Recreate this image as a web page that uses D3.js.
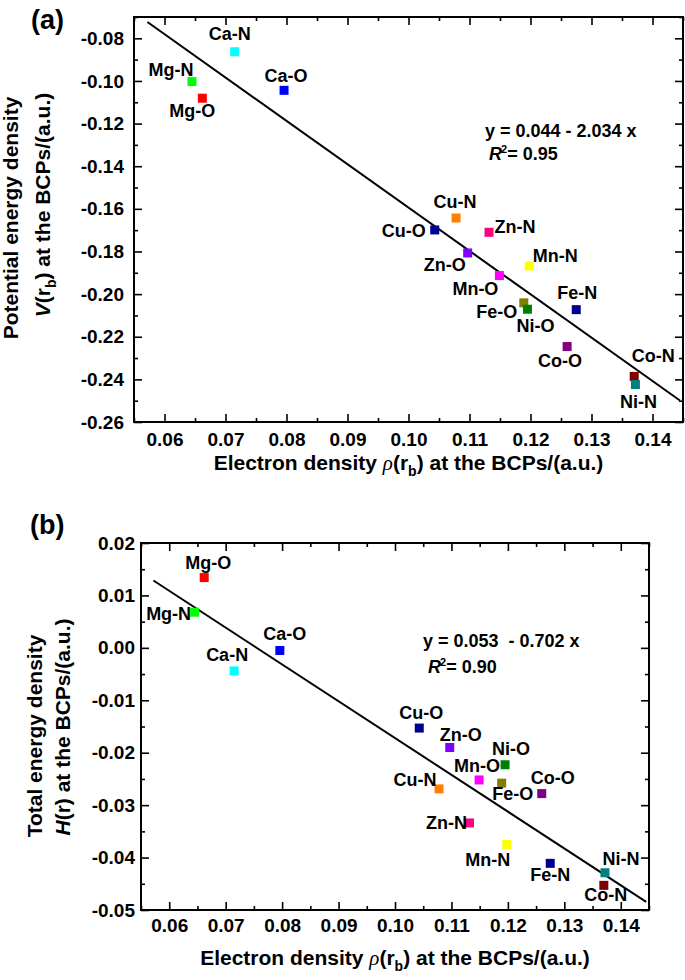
<!DOCTYPE html>
<html>
<head>
<meta charset="utf-8">
<script src="https://cdn.jsdelivr.net/npm/d3@7"></script>
<style>
body { margin: 0; background: #fff; }
svg { display: block; font-family: 'Liberation Sans', Arial, sans-serif; font-weight: bold; }
</style>
</head>
<body>
<svg id="chart-root" width="685" height="980"></svg>
<script>
const root = d3.select('#chart-root');

//Data
const bonds = ['Mg-N', 'Mg-O', 'Ca-N', 'Ca-O', 'Cu-N', 'Cu-O', 'Zn-N', 'Zn-O',
    'Mn-N', 'Mn-O', 'Fe-N', 'Fe-O', 'Co-N', 'Co-O', 'Ni-N', 'Ni-O'];
const rho = [0.0645, 0.0662, 0.0715, 0.0796, 0.1078, 0.1043, 0.1132, 0.1097,
    0.1198, 0.1149, 0.1275, 0.1189, 0.1370, 0.1260, 0.1372, 0.1195];
const potentialV = [-0.1003, -0.1081, -0.0863, -0.1044, -0.1643, -0.1699, -0.1710, -0.1807,
    -0.1868, -0.1913, -0.2073, -0.2041, -0.2386, -0.2246, -0.2424, -0.2071];
const totalH = [0.0068, 0.0134, -0.0044, -0.0005, -0.0269, -0.0153, -0.0334, -0.0190,
    -0.0375, -0.0252, -0.0411, -0.0258, -0.0453, -0.0278, -0.0429, -0.0223];
const bondColors = ['#00ff00', '#ff0000', '#00ffff', '#0000ff', '#ff8000', '#000090', '#ff0080', '#8000ff',
    '#ffff00', '#ff00ff', '#000090', '#808000', '#800000', '#800080', '#008080', '#008000'];

//Ticks
const xTicks = [0.06, 0.07, 0.08, 0.09, 0.10, 0.11, 0.12, 0.13, 0.14];
const yTicksV = [-0.26, -0.24, -0.22, -0.20, -0.18, -0.16, -0.14, -0.12, -0.10, -0.08];
const yTicksH = [-0.05, -0.04, -0.03, -0.02, -0.01, 0.00, 0.01, 0.02];

//Linear fits (intercept, slope, R^2)
const fitIntercept = [0.044, 0.053];
const fitSlope = [2.034, 0.702];
const fitR2 = ['0.95', '0.90'];
const fitText = ['y = 0.044 - 2.034 x', 'y = 0.053  - 0.702 x'];
const fitRange = [0.0572, 0.1445];

// label offsets from the marker (px)
const labelOffsetsA = {
    'Mg-N': [-21, -6], 'Mg-O': [-10, 19], 'Ca-N': [-5, -12], 'Ca-O': [2, -8],
    'Cu-N': [-1, -10], 'Cu-O': [-31, 7], 'Zn-N': [26, 1], 'Zn-O': [-23, 18],
    'Mn-N': [26, -4], 'Mn-O': [-24, 19], 'Fe-N': [1, -11], 'Fe-O': [-27, 15],
    'Co-N': [19, -14], 'Co-O': [-7, 20], 'Ni-N': [3, 24], 'Ni-O': [8, 23]
};
const labelOffsetsB = {
    'Mg-N': [-26, 8], 'Mg-O': [4, -9], 'Ca-N': [-7, -10], 'Ca-O': [5, -10],
    'Cu-N': [-24, -3], 'Cu-O': [2, -9], 'Zn-N': [-23, 6], 'Zn-O': [11, -6],
    'Mn-N': [-19, 22], 'Mn-O': [-2, -8], 'Fe-N': [0, 18], 'Fe-O': [11, 17],
    'Co-N': [2, 16], 'Co-O': [11, -10], 'Ni-N': [16, -8], 'Ni-O': [6, -10]
};

const panels = [
    {
        letter: '(a)', letterPos: [31, 29],
        values: potentialV, yDomain: [-0.26, -0.07], yTicks: yTicksV,
        box: { left: 134, right: 683, top: 17, bottom: 422 },
        xPad: 11, yPad: 10, xTitleY: 470,
        yTitle: [{ text: 'Potential energy density', x: 18, cy: 218 },
                 { sym: 'V', sub: true, x: 50, cy: 205 }],
        eqPos: [485, 137], r2Pos: [489, 160],
        offsets: labelOffsetsA
    },
    {
        letter: '(b)', letterPos: [30, 534],
        values: totalH, yDomain: [-0.05, 0.02], yTicks: yTicksH,
        box: { left: 141, right: 649, top: 543, bottom: 910 },
        xPad: 9, yPad: 6, xTitleY: 965,
        yTitle: [{ text: 'Total energy density', x: 42, cy: 736 },
                 { sym: 'H', sub: false, x: 70, cy: 727 }],
        eqPos: [423, 647], r2Pos: [428, 673],
        offsets: labelOffsetsB
    }
];

const locale = d3.formatLocale({ decimal: '.', thousands: ',', grouping: [3], currency: ['$', ''], minus: '-' });
const fmt = locale.format('.2f');

const markerSize = 9;
const majorLen = 8;
const minorLen = 4;
const tickFont = 19;
const titleFont = 21;
const labelFont = 18;

// minor ticks halfway between majors, kept inside the domain
const minorTicks = (ticks, domain) => {
    const step = ticks[1] - ticks[0];
    const lo = Math.min(...domain) - 1e-9, hi = Math.max(...domain) + 1e-9;
    return [ticks[0] - step / 2].concat(ticks.map(t => t + step / 2))
        .filter(t => t >= lo && t <= hi);
};

const styleAxis = (g, withText) => {
    g.select('.domain').remove();
    g.selectAll('.tick line').attr('stroke', '#000').attr('stroke-width', 1.6);
    if (withText) {
        g.selectAll('.tick text')
            .attr('fill', '#000')
            .attr('font-size', tickFont)
            .attr('font-family', "'Liberation Sans', Arial, sans-serif")
            .attr('font-weight', 'bold');
    } else {
        g.selectAll('.tick text').remove();
    }
};

const renderPanel = (p, k) => {
    const b = p.box;
    const xDomain = [0.055, 0.145];
    const x = d3.scaleLinear().domain(xDomain).range([b.left, b.right]);
    const y = d3.scaleLinear().domain(p.yDomain).range([b.bottom, b.top]);
    const g = root.append('g');

    // axes, all ticks pointing inward
    const xMinor = minorTicks(xTicks, xDomain);
    const yMinor = minorTicks(p.yTicks, p.yDomain);

    g.append('g').attr('transform', `translate(0,${b.bottom})`)
        .call(d3.axisBottom(x).tickValues(xTicks).tickSize(-majorLen).tickPadding(p.xPad).tickFormat(fmt))
        .call(s => styleAxis(s, true));
    g.append('g').attr('transform', `translate(0,${b.bottom})`)
        .call(d3.axisBottom(x).tickValues(xMinor).tickSize(-minorLen))
        .call(s => styleAxis(s, false));
    g.append('g').attr('transform', `translate(0,${b.top})`)
        .call(d3.axisTop(x).tickValues(xTicks).tickSize(-majorLen))
        .call(s => styleAxis(s, false));
    g.append('g').attr('transform', `translate(0,${b.top})`)
        .call(d3.axisTop(x).tickValues(xMinor).tickSize(-minorLen))
        .call(s => styleAxis(s, false));

    g.append('g').attr('transform', `translate(${b.left},0)`)
        .call(d3.axisLeft(y).tickValues(p.yTicks).tickSize(-majorLen).tickPadding(p.yPad).tickFormat(fmt))
        .call(s => styleAxis(s, true));
    g.append('g').attr('transform', `translate(${b.left},0)`)
        .call(d3.axisLeft(y).tickValues(yMinor).tickSize(-minorLen))
        .call(s => styleAxis(s, false));
    g.append('g').attr('transform', `translate(${b.right},0)`)
        .call(d3.axisRight(y).tickValues(p.yTicks).tickSize(-majorLen))
        .call(s => styleAxis(s, false));
    g.append('g').attr('transform', `translate(${b.right},0)`)
        .call(d3.axisRight(y).tickValues(yMinor).tickSize(-minorLen))
        .call(s => styleAxis(s, false));

    g.append('rect')
        .attr('x', b.left).attr('y', b.top)
        .attr('width', b.right - b.left).attr('height', b.bottom - b.top)
        .attr('fill', 'none').attr('stroke', '#000').attr('stroke-width', 2);

    // fit line
    const line = d3.line().x(d => x(d)).y(d => y(fitIntercept[k] - fitSlope[k] * d));
    g.append('path')
        .datum(fitRange)
        .attr('d', line)
        .attr('fill', 'none').attr('stroke', '#000').attr('stroke-width', 2);

    // markers
    const data = bonds.map((name, i) => ({ name, x: rho[i], y: p.values[i], color: bondColors[i] }));
    g.selectAll('rect.marker').data(data).enter().append('rect')
        .attr('class', 'marker')
        .attr('x', d => x(d.x) - markerSize / 2)
        .attr('y', d => y(d.y) - markerSize / 2)
        .attr('width', markerSize).attr('height', markerSize)
        .attr('fill', d => d.color);

    g.selectAll('text.bond').data(data).enter().append('text')
        .attr('class', 'bond')
        .attr('x', d => x(d.x) + p.offsets[d.name][0])
        .attr('y', d => y(d.y) + p.offsets[d.name][1])
        .attr('text-anchor', 'middle')
        .attr('font-size', labelFont)
        .text(d => d.name);

    // equation
    g.append('text')
        .attr('x', p.eqPos[0]).attr('y', p.eqPos[1])
        .attr('font-size', 18)
        .style('white-space', 'pre')
        .text(fitText[k]);
    const r2 = g.append('text')
        .attr('x', p.r2Pos[0]).attr('y', p.r2Pos[1])
        .attr('font-size', 18);
    r2.append('tspan').attr('font-style', 'italic').text('R');
    r2.append('tspan').attr('font-size', 11).attr('dx', -1).attr('dy', -7).text('2');
    r2.append('tspan').attr('dy', 7).text('= ' + fitR2[k]);

    // panel letter
    root.append('text')
        .attr('x', p.letterPos[0]).attr('y', p.letterPos[1])
        .attr('font-size', 27)
        .text(p.letter);

    // x title
    const xt = root.append('text')
        .attr('x', (b.left + b.right) / 2).attr('y', p.xTitleY)
        .attr('text-anchor', 'middle')
        .attr('font-size', titleFont);
    xt.append('tspan').text('Electron density ');
    xt.append('tspan').attr('font-family', "'Liberation Serif', serif")
        .attr('font-style', 'italic').attr('font-weight', 'normal').text('ρ');
    xt.append('tspan').text('(r');
    xt.append('tspan').attr('font-size', 14).attr('dy', 6).text('b');
    xt.append('tspan').attr('dy', -6).text(') at the BCPs/(a.u.)');

    // y title (two lines)
    const l1 = p.yTitle[0];
    root.append('text')
        .attr('transform', `translate(${l1.x},${l1.cy}) rotate(-90)`)
        .attr('text-anchor', 'middle')
        .attr('font-size', titleFont)
        .text(l1.text);
    const l2 = p.yTitle[1];
    const yt = root.append('text')
        .attr('transform', `translate(${l2.x},${l2.cy}) rotate(-90)`)
        .attr('text-anchor', 'middle')
        .attr('font-size', titleFont);
    yt.append('tspan').attr('font-style', 'italic').text(l2.sym);
    if (l2.sub) {
        yt.append('tspan').text('(r');
        yt.append('tspan').attr('font-size', 14).attr('dy', 6).text('b');
        yt.append('tspan').attr('dy', -6).text(') at the BCPs/(a.u.)');
    } else {
        yt.append('tspan').text('(r) at the BCPs/(a.u.)');
    }
};

panels.forEach(renderPanel);
</script>
</body>
</html>
